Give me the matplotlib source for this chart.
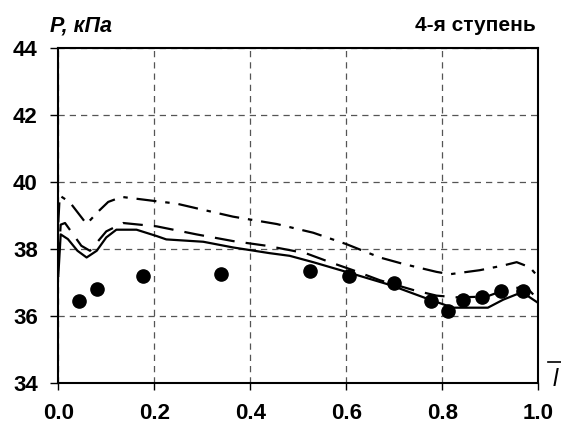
import numpy as np
import matplotlib
matplotlib.use("Agg")
import matplotlib.pyplot as plt

plt.rcParams['font.family'] = ['Liberation Sans', 'DejaVu Sans']

# experiment (dots)
x_exp = [0.043, 0.081, 0.177, 0.340, 0.524, 0.606, 0.699, 0.777, 0.811, 0.843, 0.882, 0.923, 0.968]
p_exp = [36.44, 36.80, 37.20, 37.26, 37.34, 37.21, 36.98, 36.45, 36.15, 36.47, 36.57, 36.76, 36.76]

# calculation, solid line
x_solid = [0.0, 0.005, 0.02, 0.04, 0.059, 0.08, 0.10, 0.121, 0.163, 0.205, 0.225, 0.302, 0.364, 0.44,
           0.482, 0.531, 0.600, 0.691, 0.774, 0.822, 0.895, 0.927, 0.955, 0.975, 1.0]
p_solid = [37.2, 38.44, 38.3, 37.95, 37.75, 37.95, 38.35, 38.58, 38.58, 38.39, 38.29, 38.22, 38.05, 37.88,
           37.80, 37.61, 37.32, 36.93, 36.49, 36.25, 36.25, 36.49, 36.65, 36.63, 36.39]

# calculation, dashed line
x_dash = [0.0, 0.005, 0.014, 0.048, 0.066, 0.10, 0.135, 0.205, 0.288, 0.364, 0.434, 0.482, 0.517, 0.566,
          0.614, 0.67, 0.739, 0.788, 0.83, 0.892, 0.94, 0.975, 1.0]
p_dash = [37.6, 38.73, 38.78, 38.1, 37.95, 38.53, 38.78, 38.68, 38.44, 38.24, 38.10, 37.97, 37.87, 37.61,
          37.37, 37.07, 36.78, 36.61, 36.56, 36.58, 36.83, 36.86, 36.49]

# calculation, dash-dot line
x_dd = [0.0, 0.003, 0.024, 0.059, 0.083, 0.104, 0.132, 0.205, 0.246, 0.288, 0.364, 0.455, 0.531, 0.6,
        0.67, 0.718, 0.788, 0.816, 0.878, 0.927, 0.955, 0.982, 1.0]
p_dd = [38.8, 39.6, 39.4, 38.75, 39.12, 39.41, 39.56, 39.43, 39.36, 39.22, 38.97, 38.75, 38.49, 38.15,
        37.75, 37.56, 37.32, 37.25, 37.37, 37.51, 37.61, 37.46, 37.17]

x_ticks = [0.0, 0.2, 0.4, 0.6, 0.8, 1.0]
y_ticks = [34, 36, 38, 40, 42, 44]

fig = plt.figure(figsize=(5.61, 4.30), dpi=100)
ax = fig.add_axes([0.1039, 0.1093, 0.8556, 0.7784])

ax.plot(x_solid, p_solid, color='k', lw=1.6, zorder=3)
ax.plot(x_dash, p_dash, color='k', lw=1.6, dashes=(9, 5), zorder=3)
ax.plot(x_dd, p_dd, color='k', lw=1.6, dashes=(9, 4, 2, 4), zorder=3)
ax.plot(x_exp, p_exp, 'o', color='k', ms=9.5, zorder=4)

ax.set_xlim(0, 1.0)
ax.set_ylim(34, 44)
ax.set_xticks(x_ticks)
ax.set_yticks(y_ticks)
ax.set_xticklabels(['%.1f' % v for v in x_ticks])
ax.set_yticklabels([str(v) for v in y_ticks])
ax.grid(True, color='#555555', lw=0.9, dashes=(5, 4))
for s in ax.spines.values():
    s.set_linewidth(1.5)
ax.tick_params(axis='both', direction='out', width=1.0, labelsize=16)
ax.tick_params(axis='x', length=5, pad=9.5)
ax.tick_params(axis='y', length=5.8, pad=9)
for lab in ax.get_xticklabels() + ax.get_yticklabels():
    lab.set_fontweight('bold')

fig.text(0.089, 0.94, 'P, кПа', fontsize=15.5, fontweight='bold', style='italic', va='center')
fig.text(0.955, 0.94, '4-я ступень', fontsize=15, fontweight='bold', ha='right', va='center')
fig.text(0.990, 0.117, 'l', fontsize=17, style='italic', ha='center', va='center')
fig.add_artist(plt.Line2D([0.977, 1.0], [0.158, 0.158], color='k', lw=1.2, transform=fig.transFigure))

fig.savefig('out.png', dpi=100)
